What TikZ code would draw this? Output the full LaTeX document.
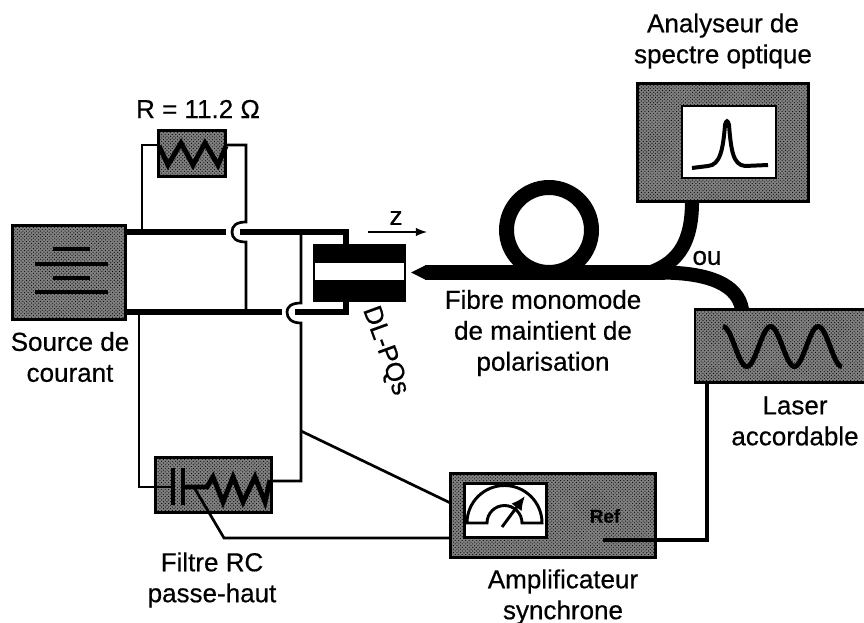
\documentclass[tikz,border=0pt]{standalone}
\usepackage{fontspec}
\setmainfont{Liberation Sans}[FakeBold=0.5]
\usetikzlibrary{arrows.meta,patterns}
\definecolor{boitegris}{gray}{0.5}
\tikzset{
  boite/.style={draw,line width=2.5pt,fill=boitegris,inner sep=0pt,outer sep=0pt,
    postaction={pattern=crosshatch dots,pattern color=black}},
  ecran/.style={draw,line width=2.5pt,fill=white,inner sep=0pt,outer sep=0pt},
  legende/.style={align=center,inner sep=0pt,font=\fontsize{22.2}{26.4}\selectfont},
  fil/.style={line width=2.3pt},
  filgros/.style={line width=4.6pt},
  symbole/.style={line width=4.2pt,line join=miter},
  fibre/.style={line width=12pt}
}
\begin{document}
\begin{tikzpicture}[x=0.03cm,y=-0.03cm]
  \useasboundingbox (0,0) rectangle (864,623);
  \node[boite,minimum width=3.39cm,minimum height=2.82cm] at (69,272.5) (source) {};
  \node[boite,minimum width=2.01cm,minimum height=1.38cm] at (192,153.5) (resistance) {};
  \node[boite,minimum width=3.48cm,minimum height=1.65cm] at (213.5,485) (filtre) {};
  \node[boite,minimum width=6.15cm,minimum height=2.52cm] at (553,515.5) (ampli) {};
  \node[boite,minimum width=5.13cm,minimum height=3.54cm] at (723,142.5) (analyseur) {};
  \node[boite,minimum width=5.1cm,minimum height=2.19cm] at (780,346) (laser) {};
  \node[ecran,minimum width=2.82cm,minimum height=2.16cm] at (729,142) (ecranosa) {};
  \node[ecran,minimum width=2.46cm,minimum height=1.62cm] at (505.5,510.5) (ecranampli) {};
  \node[fill=black,inner sep=0pt,outer sep=0pt,minimum width=2.79cm,minimum height=1.74cm] at (359.5,273) (diode) {};
  \node[fill=white,inner sep=0pt,minimum width=2.67cm,minimum height=0.51cm] at (359.5,271.5) (bande) {};

  \coordinate (hautS) at (126,232);
  \coordinate (basS) at (126,312);
  \coordinate (hautD) at (346,232);
  \coordinate (basD) at (346,312);
  \coordinate (coinRg) at (142,145);
  \coordinate (coinRd) at (246,145);
  \coordinate (coinFg) at (139,487);
  \coordinate (coinFd) at (301,481);
  \coordinate (coudeF) at (224,538);
  \coordinate (coudeL) at (707,540);

  \draw[filgros] (hautS) -- (226,232);
  \draw[filgros] (240,232) -- (hautD) -- (346,244);
  \draw[filgros] (basS) -- (282,312);
  \draw[filgros] (295,312) -- (basD) -- (346,302);
  \draw[fil] (142,232) -- (coinRg) -- (159,145);
  \draw[fil] (226,145) -- (coinRd) -- (246,222) .. controls (236,222) and (232,226) .. (232,232)
    .. controls (232,238) and (236,242) .. (246,242) -- (246,312);
  \draw[fil] (301,232) -- (301,303) .. controls (291,303) and (287,307) .. (287,312)
    .. controls (287,318) and (291,323) .. (301,323) -- (coinFd) -- (270,481);
  \draw[fil] (139,312) -- (coinFg) -- (173,487);
  \draw[fil] (301,431) -- (ampli.west |- 0,503);
  \draw[fil] (195,489) -- (coudeF) -- (ampli.west |- coudeF);
  \draw[line width=3pt] (603,540) -- (coudeL) -- (laser.south -| coudeL);

  \draw[symbole] (159,146) -- (168,165) -- (181,143) -- (193,165) -- (205,143) -- (218,165) -- (226,146);
  \draw[symbole] (173,468) -- (173,505);
  \draw[symbole] (183,468) -- (183,505);
  \draw[symbole] (183,487) -- (207,487) -- (213,477) -- (223,502) -- (233,477) -- (243,502) -- (255,477) -- (265,502) -- (270,480);
  \foreach \xa/\xb/\ya in {53/90/249,35/108/264,53/90/278,35/108/292}
    \draw[line width=3.6pt] (\xa,\ya) -- (\xb,\ya);

  \draw[line width=2.5pt] (467,523) arc[start angle=180,end angle=360,radius=37.5] -- (522,523)
    arc[start angle=0,end angle=-180,radius=17.5] -- cycle;
  \draw[line width=2.5pt,-{Latex[length=12pt,width=11pt]}] (502,527) -- (525,496);
  \node[font=\bfseries\fontsize{16}{16}\selectfont,inner sep=0pt] at (605,516) (ref) {Ref};

  \draw[line width=3.4pt] (692,168) -- (708,166) .. controls (720,165) and (723,150) .. (725,125)
    .. controls (726,120) and (728,120) .. (729,125) .. controls (731,150) and (733,165) .. (745,166) -- (768,165);
  \draw[line width=4.2pt] plot[domain=0:900,samples=80,smooth] ({723+\x/900*119},{346.5-20*cos(\x)});

  \coordinate (anneau) at (549,230);
  \coordinate (pointe) at (411,272.5);
  \coordinate (jonction) at (665,272.5);
  \draw[line width=12.8pt] (anneau) circle[radius=42.5];
  \fill (pointe) -- (426,265) -- (426,280) -- cycle;
  \draw[fibre] (425,272.5) -- (jonction);
  \draw[fibre] (analyseur.south -| 692,0) .. controls (692,240) and (680,262) .. (650,272.5);
  \draw[fibre] (laser.north -| 742,0) .. controls (738,285) and (710,272.5) .. (660,272.5);

  \draw[line width=2.2pt,-latex] (368,232) -- (427,232);
  \node[legende] at (396,218) (z) {z};
  \node[legende] at (198,109) (labelR) {R = 11.2 Ω};
  \node[legende] at (70,357) (labelS) {Source de\\courant};
  \node[legende] at (212,580) (labelF) {Filtre RC\\passe-haut};
  \node[legende] at (563,597) (labelA) {Amplificateur\\synchrone};
  \node[legende] at (795,421) (labelL) {Laser\\accordable};
  \node[legende] at (723,41) (labelO) {Analyseur de\\spectre optique};
  \node[legende] at (707,258) (ou) {ou};
  \node[legende] at (543,333) (labelM) {Fibre monomode\\de maintient de\\polarisation};
  \node[legende,rotate=-70] at (385,351) (labelD) {DL-PQs};
\end{tikzpicture}
\end{document}
